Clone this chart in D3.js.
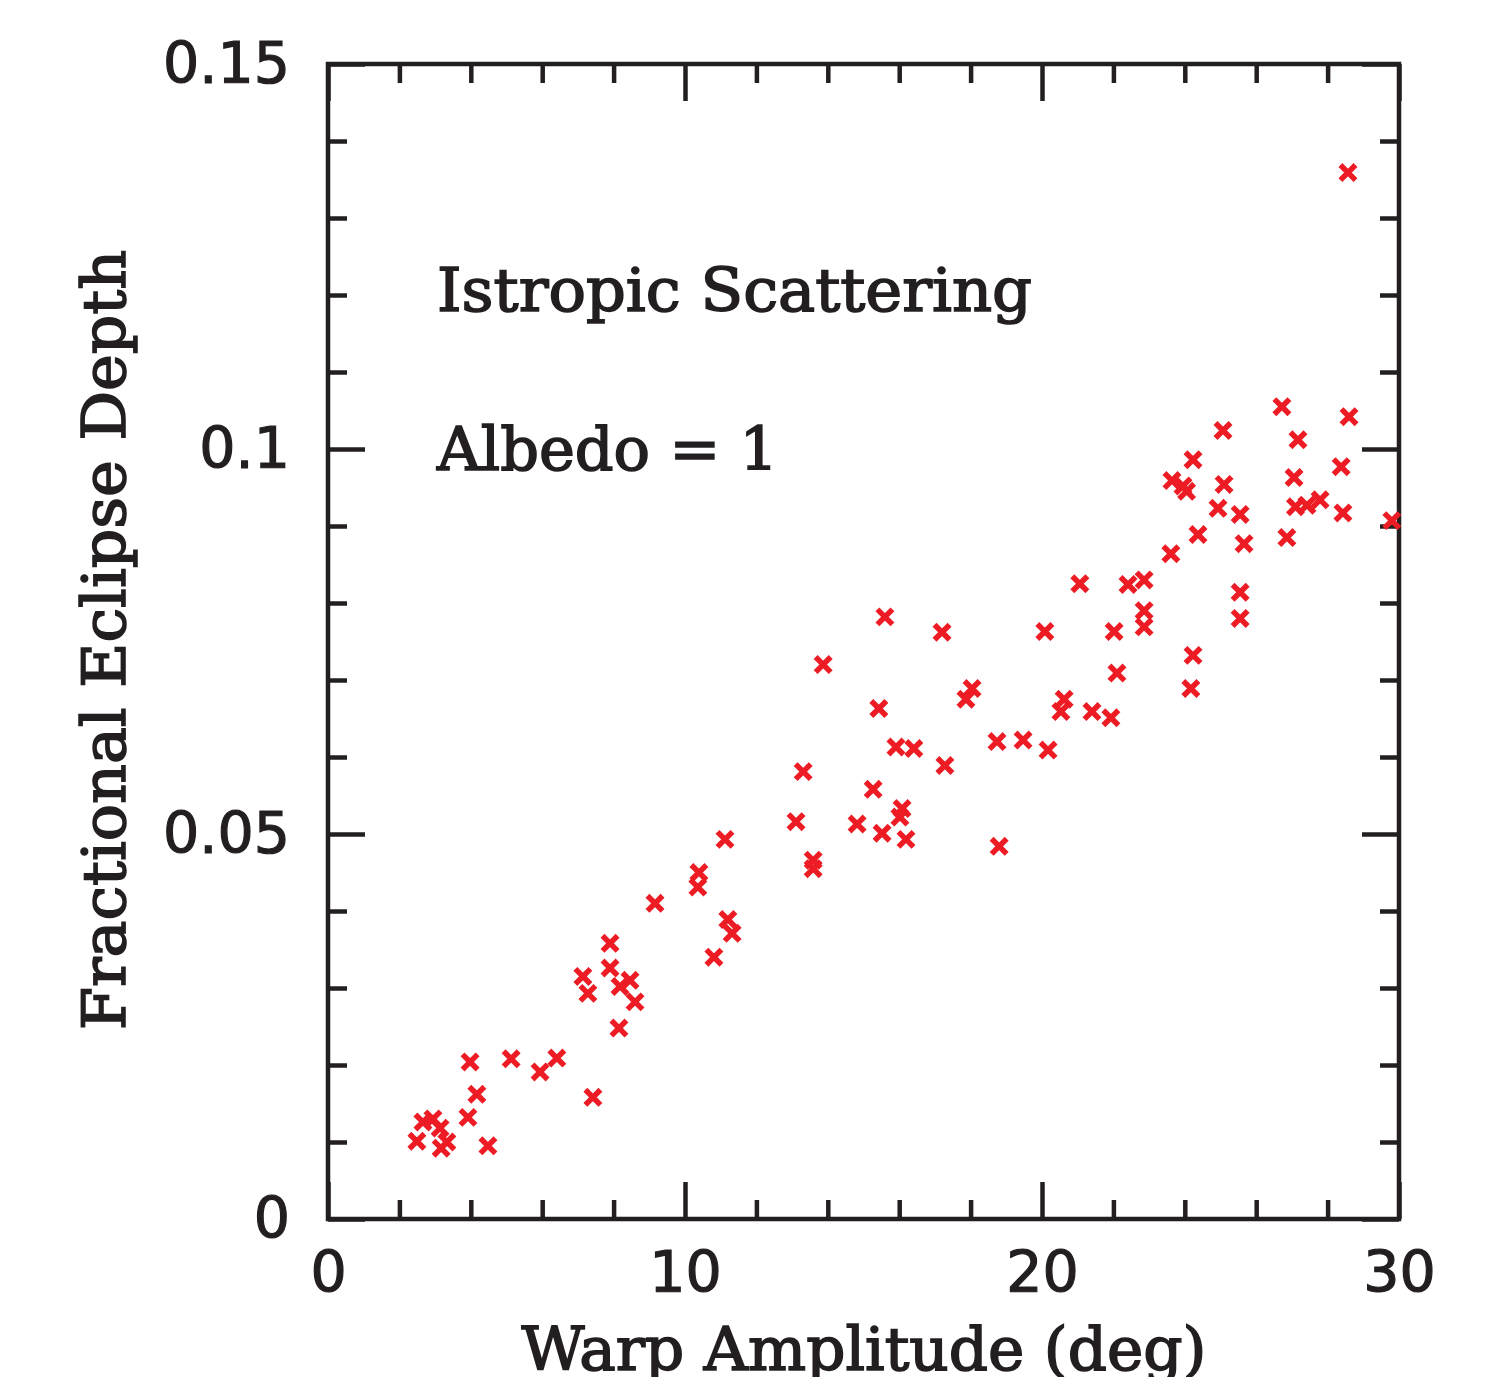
<!DOCTYPE html>
<html>
<head>
<meta charset="utf-8">
<script src="https://cdn.jsdelivr.net/npm/d3@7"></script>
<style>
	body { margin: 0; background: #fff; }
</style>
</head>
<body>
<script>
// warp amplitude (deg) of each model run
var warp = [
	2.49, 2.66, 2.94, 3.14, 3.17, 3.33, 3.92, 3.98, 4.17, 4.48,
	5.13, 5.94, 6.41, 7.14, 7.28, 7.42, 7.90, 7.90, 8.15, 8.18,
	8.46, 8.60, 9.16, 10.36, 10.39, 10.81, 11.12, 11.20, 11.32, 13.11,
	13.31, 13.59, 13.59, 13.87, 14.82, 15.27, 15.43, 15.52, 15.60, 15.91,
	16.02, 16.08, 16.19, 16.41, 17.20, 17.28, 17.87, 18.04, 18.74, 18.80,
	19.47, 20.08, 20.17, 20.53, 20.62, 21.06, 21.40, 21.93, 22.02, 22.10,
	22.41, 22.86, 22.86, 22.86, 23.61, 23.64, 23.95, 24.05, 24.17, 24.23,
	24.23, 24.37, 24.93, 25.07, 25.10, 25.55, 25.55, 25.55, 25.66, 26.72,
	26.86, 27.06, 27.10, 27.17, 27.42, 27.79, 28.38, 28.43, 28.57, 28.60,
	29.80
];

// fractional eclipse depth, same order
var depth = [
	0.0101, 0.0126, 0.0130, 0.0118, 0.0092, 0.0100, 0.0132, 0.0204, 0.0162, 0.0095,
	0.0208, 0.0191, 0.0209, 0.0315, 0.0293, 0.0158, 0.0358, 0.0326, 0.0248, 0.0302,
	0.0310, 0.0282, 0.0410, 0.0431, 0.0450, 0.0340, 0.0493, 0.0389, 0.0371, 0.0516,
	0.0581, 0.0466, 0.0455, 0.0720, 0.0513, 0.0558, 0.0663, 0.0501, 0.0782, 0.0613,
	0.0522, 0.0533, 0.0493, 0.0611, 0.0762, 0.0589, 0.0675, 0.0689, 0.0620, 0.0484,
	0.0622, 0.0763, 0.0609, 0.0659, 0.0675, 0.0825, 0.0659, 0.0651, 0.0763, 0.0709,
	0.0824, 0.0830, 0.0790, 0.0769, 0.0864, 0.0959, 0.0952, 0.0945, 0.0689, 0.0986,
	0.0732, 0.0889, 0.0923, 0.1024, 0.0954, 0.0915, 0.0814, 0.0780, 0.0877, 0.1055,
	0.0885, 0.0963, 0.0925, 0.1012, 0.0927, 0.0934, 0.0977, 0.0917, 0.1359, 0.1042,
	0.0907
];

var xMajor = [0, 10, 20, 30];
var xMinor = [2, 4, 6, 8, 12, 14, 16, 18, 22, 24, 26, 28];
var xTickLabels = ['0', '10', '20', '30'];
var yMajor = [0, 0.05, 0.1, 0.15];
var yMinor = [0.01, 0.02, 0.03, 0.04, 0.06, 0.07, 0.08, 0.09, 0.11, 0.12, 0.13, 0.14];
var yTickLabels = ['0', '0.05', '0.1', '0.15'];

var notes = ['Istropic Scattering', 'Albedo = 1'];

var points = warp.map(function(w, i) { return {x: w, y: depth[i]}; });

// frame edges (note: 'top' is taken by window.top)
var fLeft = 328, fRight = 1399, fTop = 64, fBottom = 1219;
var ink = '#231f20';
var titleFont = '"DejaVu Serif", serif';
var tickFont = '"DejaVu Sans", sans-serif';

var x = d3.scaleLinear().domain([0, 30]).range([fLeft, fRight]);
var y = d3.scaleLinear().domain([0, 0.15]).range([fBottom, fTop]);

var svg = d3.select('body')
	.append('svg')
	.attr('width', 1500)
	.attr('height', 1377);

// draws a set of inward ticks, no labels
function ticks(axis, pos, values, len) {
	var g = svg.append('g')
		.attr('transform', pos)
		.call(axis.tickValues(values).tickSizeInner(-len).tickSizeOuter(0).tickFormat(''));
	g.select('.domain').remove();
	g.selectAll('.tick line').attr('stroke', ink).attr('stroke-width', 4.5);
	return g;
}

ticks(d3.axisTop(x), 'translate(0,' + fTop + ')', xMinor, 19);
ticks(d3.axisTop(x), 'translate(0,' + fTop + ')', xMajor, 37);
ticks(d3.axisBottom(x), 'translate(0,' + fBottom + ')', xMinor, 19);
ticks(d3.axisRight(y), 'translate(' + fRight + ',0)', yMinor, 19);
ticks(d3.axisRight(y), 'translate(' + fRight + ',0)', yMajor, 37);
ticks(d3.axisLeft(y), 'translate(' + fLeft + ',0)', yMinor, 19);

// labelled major ticks
var xb = svg.append('g')
	.attr('transform', 'translate(0,' + fBottom + ')')
	.call(d3.axisBottom(x).tickValues(xMajor).tickSizeInner(-37).tickSizeOuter(0)
		.tickPadding(33).tickFormat(function(d, i) { return xTickLabels[i]; }));
var yl = svg.append('g')
	.attr('transform', 'translate(' + fLeft + ',0)')
	.call(d3.axisLeft(y).tickValues(yMajor).tickSizeInner(-37).tickSizeOuter(0)
		.tickPadding(38).tickFormat(function(d, i) { return yTickLabels[i]; }));

[xb, yl].forEach(function(g) {
	g.select('.domain').remove();
	g.selectAll('.tick line').attr('stroke', ink).attr('stroke-width', 4.5);
	g.selectAll('.tick text')
		.attr('fill', ink)
		.attr('stroke', ink)
		.attr('stroke-width', 1.2)
		.style('font-family', tickFont)
		.style('font-size', '57px');
});

// frame
svg.append('rect')
	.attr('x', fLeft)
	.attr('y', fTop)
	.attr('width', fRight - fLeft)
	.attr('height', fBottom - fTop)
	.attr('fill', 'none')
	.attr('stroke', ink)
	.attr('stroke-width', 4.5);

// points
svg.selectAll('path.pt')
	.data(points)
	.enter()
	.append('path')
	.attr('class', 'pt')
	.attr('d', d3.symbol().type(d3.symbolX).size(150))
	.attr('transform', function(d) { return 'translate(' + x(d.x) + ',' + y(d.y) + ')'; })
	.attr('fill', 'none')
	.attr('stroke', '#ed1c24')
	.attr('stroke-width', 5.5);

function title(txt, len) {
	return svg.append('text')
		.text(txt)
		.attr('fill', ink)
		.attr('stroke', ink)
		.attr('stroke-width', 1.6)
		.attr('textLength', len)
		.attr('lengthAdjust', 'spacingAndGlyphs')
		.style('font-family', titleFont)
		.style('font-size', '59px');
}

title('Warp Amplitude (deg)', 685)
	.attr('x', 864)
	.attr('y', 1370)
	.attr('text-anchor', 'middle');

title('Fractional Eclipse Depth', 780)
	.attr('text-anchor', 'middle')
	.attr('transform', 'translate(125,640) rotate(-90)');

title(notes[0], 595).attr('x', 437).attr('y', 311);
title(notes[1], 341).attr('x', 437).attr('y', 470);
</script>
</body>
</html>
